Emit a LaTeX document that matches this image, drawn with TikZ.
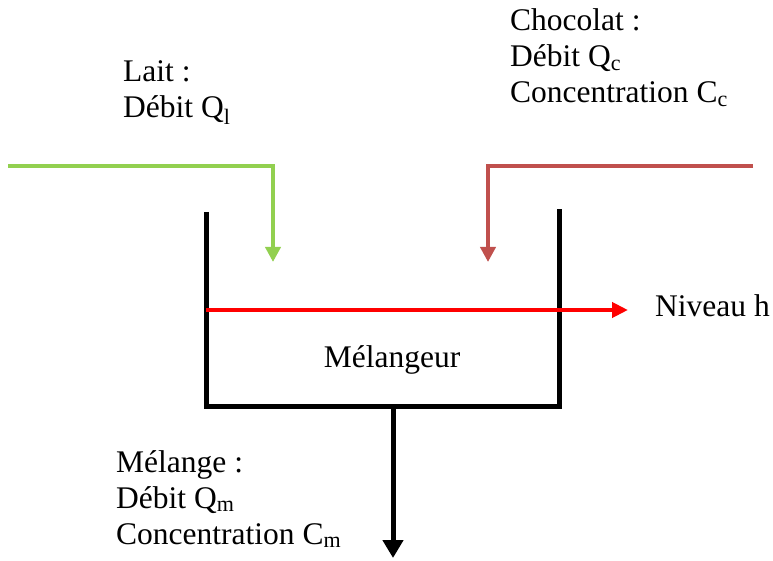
\documentclass[tikz,border=0pt]{standalone}
\usepackage{fontspec}
\setmainfont{Liberation Serif}
\usetikzlibrary{arrows.meta}
\definecolor{laitgreen}{HTML}{92D050}
\definecolor{chocbrown}{HTML}{C0504D}

\begin{document}
\begin{tikzpicture}[
    x=1pt, y=-1pt,
    txt/.style={inner sep=0pt, font=\fontsize{31.5}{36}\selectfont},
    info/.style={txt, anchor=base west, align=left},
    feed/.style={line width=4pt, -{Triangle[length=15pt, width=15pt]}},
    wall/.style={line width=5pt},
    level/.style={line width=4pt, red, -{Triangle[length=16pt, width=15pt]}},
    outflow/.style={line width=5pt, -{Triangle[length=18pt, width=20pt]}}
]
\useasboundingbox (0,0) rectangle (773,561);

% Points
\coordinate (laitin) at (8,166);
\coordinate (laittip) at (273,262);
\coordinate (chocin) at (753,166);
\coordinate (choctip) at (488,262);
\coordinate (tankTL) at (206,212);
\coordinate (tankBL) at (206,406);
\coordinate (tankBR) at (559,406);
\coordinate (tankTR) at (559,209);
\coordinate (levelL) at (206,310);
\coordinate (levelR) at (628,310);
\coordinate (outlet) at (393,406);
\coordinate (outend) at (393,558);

% Nodes (anchored on the baseline of the last line)
\node[info] (lait) at (123,118) {Lait :\\Débit Q\textsubscript{l}};
\node[info] (choc) at (510,103) {Chocolat :\\Débit Q\textsubscript{c}\\Concentration C\textsubscript{c}};
\node[info] (melange) at (116,544) {Mélange :\\Débit Q\textsubscript{m}\\Concentration C\textsubscript{m}};
\node[txt, anchor=base west] (niveau) at (655,316) {Niveau h};
\node[txt, anchor=base] (melangeur) at (392,367) {Mélangeur};

% Tank
\draw[wall] (tankTL) -- (tankBL) -- (tankBR) -- (tankTR);

% Arrows
\draw[feed, laitgreen] (laitin) -| (laittip);
\draw[feed, chocbrown] (chocin) -| (choctip);
\draw[level] (levelL) -- (levelR);
\draw[outflow] (outlet) -- (outend);

\end{tikzpicture}
\end{document}
